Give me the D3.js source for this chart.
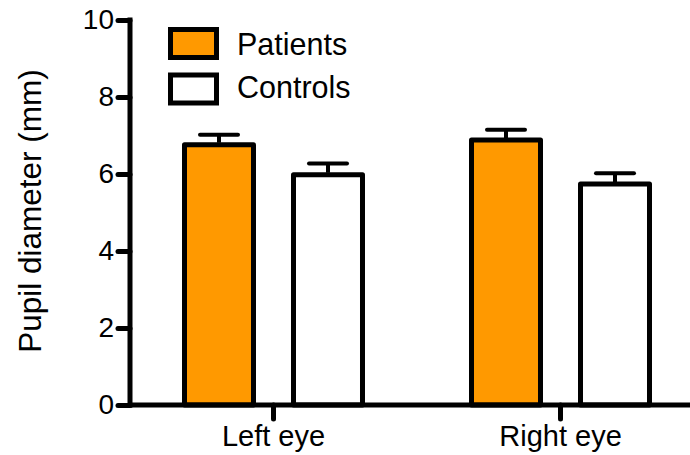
<!DOCTYPE html>
<html>
<head>
<meta charset="utf-8">
<script src="https://cdn.jsdelivr.net/npm/d3@7"></script>
<style>
  html, body { margin: 0; padding: 0; background: #fff; }
  svg text { font-family: "Liberation Sans", Arial, Helvetica, sans-serif; fill: #000; }
</style>
</head>
<body>
<svg id="chart" width="690" height="455"></svg>
<script>
// Pupil diameter by eye, patients vs. controls (mean + SEM)
const eyes = ["Left eye", "Right eye"];
const groups = ["Patients", "Controls"];
const patientsMean = [6.76, 6.88];
const patientsSem = [0.26, 0.27];
const controlsMean = [5.98, 5.74];
const controlsSem = [0.29, 0.28];
const yTicks = [0, 2, 4, 6, 8, 10];
const groupColors = ["#FF9900", "#FFFFFF"];

const rows = eyes.map((eye, i) => ({
  eye,
  values: [
    { group: groups[0], mean: patientsMean[i], sem: patientsSem[i] },
    { group: groups[1], mean: controlsMean[i], sem: controlsSem[i] }
  ]
}));

const svg = d3.select("#chart");

const y = d3.scaleLinear().domain([0, 10]).range([405, 20]);
const x0 = d3.scaleBand().domain(eyes).range([130, 704]).paddingInner(0).paddingOuter(0);
const x1 = d3.scaleBand().domain(groups).range([0, x0.bandwidth()])
  .paddingInner(0.367).paddingOuter(0.5);
const color = d3.scaleOrdinal().domain(groups).range(groupColors);

// Bars
const gGroups = svg.append("g").selectAll("g")
  .data(rows).join("g")
  .attr("transform", d => `translate(${x0(d.eye)},0)`);

gGroups.selectAll("rect")
  .data(d => d.values).join("rect")
  .attr("x", d => x1(d.group))
  .attr("y", d => y(d.mean))
  .attr("width", x1.bandwidth())
  .attr("height", d => y(0) - y(d.mean))
  .attr("fill", d => color(d.group))
  .attr("stroke", "#000")
  .attr("stroke-width", 5)
  .attr("stroke-linejoin", "round");

// Upper error bars
const capHalf = 19;
const err = gGroups.selectAll("g.err")
  .data(d => d.values).join("g").attr("class", "err");
err.append("line")
  .attr("x1", d => x1(d.group) + x1.bandwidth() / 2)
  .attr("x2", d => x1(d.group) + x1.bandwidth() / 2)
  .attr("y1", d => y(d.mean) - 2)
  .attr("y2", d => y(d.mean + d.sem))
  .attr("stroke", "#000").attr("stroke-width", 4);
err.append("line")
  .attr("x1", d => x1(d.group) + x1.bandwidth() / 2 - capHalf)
  .attr("x2", d => x1(d.group) + x1.bandwidth() / 2 + capHalf)
  .attr("y1", d => y(d.mean + d.sem))
  .attr("y2", d => y(d.mean + d.sem))
  .attr("stroke", "#000").attr("stroke-width", 4)
  .attr("stroke-linecap", "round");

// Y axis
const yAxis = svg.append("g")
  .attr("transform", "translate(130,0)")
  .call(d3.axisLeft(y).tickValues(yTicks).tickSize(13).tickPadding(3).tickSizeOuter(0));
yAxis.select(".domain").remove();
yAxis.append("line")
  .attr("x1", 0).attr("x2", 0).attr("y1", y(10) - 2.5).attr("y2", y(0) + 2.5)
  .attr("stroke", "#000").attr("stroke-width", 5);
yAxis.selectAll(".tick line").attr("stroke", "#000").attr("stroke-width", 5)
  .attr("stroke-linecap", "round").attr("x2", -12);
yAxis.selectAll(".tick text")
  .style("font-size", "28px").attr("fill", "#000");

// X axis
const xAxis = svg.append("g")
  .attr("transform", `translate(0,${y(0)})`)
  .call(d3.axisBottom(x0).tickSize(14).tickPadding(6).tickSizeOuter(0));
xAxis.select(".domain").remove();
xAxis.append("line")
  .attr("x1", 130).attr("x2", 704).attr("y1", 0).attr("y2", 0)
  .attr("stroke", "#000").attr("stroke-width", 5);
xAxis.selectAll(".tick line").attr("stroke", "#000").attr("stroke-width", 5)
  .attr("stroke-linecap", "round");
xAxis.selectAll(".tick text")
  .style("font-size", "29px").attr("fill", "#000");

// Y axis title
svg.append("text")
  .attr("transform", "translate(41,211) rotate(-90)")
  .attr("text-anchor", "middle")
  .style("font-size", "31.5px")
  .text("Pupil diameter (mm)");

// Legend
const legend = svg.append("g");
legend.selectAll("rect")
  .data(groups).join("rect")
  .attr("x", 170.5)
  .attr("y", (d, i) => 29.5 + i * 45.5)
  .attr("width", 46).attr("height", 28)
  .attr("fill", d => color(d))
  .attr("stroke", "#000").attr("stroke-width", 5);
legend.selectAll("text")
  .data(groups).join("text")
  .attr("x", 237)
  .attr("y", (d, i) => 55 + i * 43)
  .style("font-size", "30.5px")
  .text(d => d);
</script>
</body>
</html>
